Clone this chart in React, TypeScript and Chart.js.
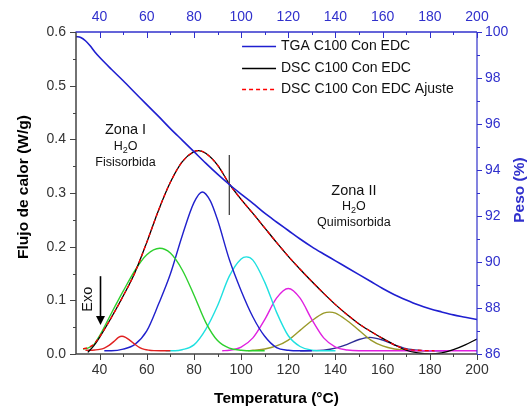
import React, { useEffect, useRef } from "react";
import { Chart, registerables } from "chart.js";

Chart.register(...registerables);

const FONT = "'Liberation Sans', Arial, Helvetica, sans-serif";
const BLUE_TXT = "#3030cc";
const AXIS_GRAY = "#444444";

// ---- tick values ----
const xTicks = [40, 60, 80, 100, 120, 140, 160, 180, 200];
const xMinor = [50, 70, 90, 110, 130, 150, 170, 190];
const yTicks = [0, 0.1, 0.2, 0.3, 0.4, 0.5, 0.6];
const yMinor = [0.05, 0.15, 0.25, 0.35, 0.45, 0.55];
const y2Ticks = [86, 88, 90, 92, 94, 96, 98, 100];
const y2Minor = [87, 89, 91, 93, 95, 97, 99];

// ---- TGA (weight %) ----
const tgaT = [30, 32, 34, 36, 38, 40, 45, 50, 55, 60, 65, 70, 75, 80, 85, 90, 95, 100, 105, 110, 115, 120, 125, 130, 135, 140, 145, 150, 155, 160, 165, 170, 175, 180, 185, 190, 195, 200];
const tgaW = [99.8, 99.76, 99.62, 99.4, 99.13, 98.9, 98.38, 97.88, 97.36, 96.84, 96.33, 95.8, 95.3, 94.8, 94.3, 93.82, 93.37, 92.95, 92.55, 92.12, 91.74, 91.37, 91.0, 90.66, 90.35, 90.05, 89.75, 89.45, 89.15, 88.85, 88.58, 88.35, 88.14, 87.97, 87.83, 87.7, 87.6, 87.5];

// ---- DSC measured ----
const dscT = [35, 37.5, 40, 45, 50, 55, 60, 65, 70, 75, 80, 82, 85, 90, 95, 100, 105, 110, 115, 120, 125, 130, 135, 140, 145, 150, 155, 160, 165, 170, 175, 180, 185, 190, 195, 200];
const dscV = [0.003, 0.015, 0.031, 0.068, 0.108, 0.152, 0.208, 0.268, 0.320, 0.358, 0.377, 0.379, 0.374, 0.352, 0.317, 0.288, 0.262, 0.235, 0.208, 0.182, 0.158, 0.135, 0.113, 0.092, 0.073, 0.056, 0.042, 0.029, 0.017, 0.007, 0.002, 0.0, 0.002, 0.008, 0.017, 0.028];

// ---- DSC fit ----
const fitT = [33, 35, 37.5, 40, 45, 50, 55, 60, 65, 70, 75, 80, 82, 85, 90, 95, 100, 105, 110, 115, 120, 125, 130, 135, 140, 145, 150, 155, 160, 165, 170, 175, 182];
const fitV = [0.010, 0.012, 0.018, 0.032, 0.068, 0.108, 0.152, 0.208, 0.268, 0.320, 0.358, 0.377, 0.379, 0.374, 0.352, 0.317, 0.288, 0.262, 0.235, 0.208, 0.182, 0.158, 0.135, 0.113, 0.092, 0.073, 0.056, 0.042, 0.029, 0.017, 0.009, 0.007, 0.006];

// ---- fitted peaks ----
const pk1T = [34, 36, 38, 40, 42, 44, 46, 48, 49.5, 51, 53, 55, 57, 59, 61, 63, 66, 70];
const pk1V = [0.007, 0.007, 0.0075, 0.0085, 0.011, 0.016, 0.023, 0.031, 0.033, 0.031, 0.025, 0.018, 0.012, 0.0085, 0.007, 0.0063, 0.006, 0.006];

const pk2T = [33, 35, 37.5, 40, 45, 50, 55, 60, 65.5, 70, 75, 80, 85, 90, 95, 100, 105, 110];
const pk2V = [0.009, 0.011, 0.017, 0.034, 0.076, 0.117, 0.156, 0.185, 0.197, 0.188, 0.157, 0.110, 0.059, 0.025, 0.011, 0.007, 0.006, 0.006];

const pk3T = [42, 45, 50, 55, 60, 65, 70, 75, 80, 83.5, 87, 90, 95, 100, 105, 110, 115, 120, 125, 130];
const pk3V = [0.006, 0.006, 0.009, 0.018, 0.043, 0.093, 0.149, 0.220, 0.282, 0.302, 0.285, 0.250, 0.176, 0.118, 0.069, 0.033, 0.012, 0.007, 0.006, 0.006];

const pk4T = [68, 72, 75, 80, 85, 90, 95, 100, 102.2, 105, 110, 115, 120, 125, 130, 135, 140];
const pk4V = [0.006, 0.006, 0.008, 0.017, 0.046, 0.090, 0.145, 0.177, 0.181, 0.175, 0.134, 0.078, 0.034, 0.014, 0.007, 0.006, 0.006];

const pk5T = [92, 95, 100, 105, 110, 115, 120, 125, 130, 135, 140, 145, 150, 160, 175, 200];
const pk5V = [0.006, 0.007, 0.013, 0.030, 0.064, 0.104, 0.122, 0.104, 0.064, 0.030, 0.013, 0.0075, 0.006, 0.006, 0.006, 0.006];

const pk6T = [103, 105, 110, 115, 120, 125, 130, 135, 137.5, 140, 145, 150, 155, 160, 165, 170, 175, 180];
const pk6V = [0.006, 0.007, 0.0093, 0.015, 0.026, 0.044, 0.062, 0.076, 0.078, 0.076, 0.062, 0.044, 0.026, 0.015, 0.0093, 0.007, 0.006, 0.006];

const pk7T = [125, 130, 135, 140, 145, 150, 154.5, 160, 165, 170, 175, 180, 188];
const pk7V = [0.006, 0.0062, 0.0073, 0.011, 0.018, 0.027, 0.031, 0.026, 0.017, 0.010, 0.007, 0.006, 0.006];

// ---- zone separator ----
const sepT = [95, 95];
const sepV = [0.259, 0.371];

// ---- legend / annotation text ----
const legendItems = ["TGA C100 Con EDC", "DSC C100 Con EDC", "DSC C100 Con EDC Ajuste"];
const legendRowsV = [0.573, 0.532, 0.494];

const xy = (t: number[], v: number[]) => t.map((x, i) => ({ x, y: v[i] }));

const COLORS = {
  tga: "#1f1fd0",
  dsc: "#000000",
  fit: "#ff0000",
  p1: "#e02020",
  p2: "#2ed02e",
  p3: "#2020cc",
  p4: "#1fe0e0",
  p5: "#e020e0",
  p6: "#9a9a2a",
  p7: "#2e2e96",
};

function drawH2O(ctx: CanvasRenderingContext2D, cx: number, cy: number, size: number) {
  ctx.save();
  ctx.textBaseline = "middle";
  ctx.textAlign = "left";
  const big = `${size}px ${FONT}`;
  const small = `${Math.round(size * 0.7)}px ${FONT}`;
  ctx.font = big;
  const wH = ctx.measureText("H").width;
  const wO = ctx.measureText("O").width;
  ctx.font = small;
  const w2 = ctx.measureText("2").width;
  const total = wH + w2 + wO;
  let x = cx - total / 2;
  ctx.font = big;
  ctx.fillText("H", x, cy);
  x += wH;
  ctx.font = small;
  ctx.fillText("2", x, cy + size * 0.3);
  x += w2;
  ctx.font = big;
  ctx.fillText("O", x, cy);
  ctx.restore();
}

const decorPlugin = {
  id: "decor",
  afterDatasetsDraw(chart: any) {
    const ctx: CanvasRenderingContext2D = chart.ctx;
    const { left, right, top, bottom } = chart.chartArea;
    const sx = chart.scales.x;
    const sy = chart.scales.y;
    const sy2 = chart.scales.y2;
    ctx.save();

    // axis lines
    ctx.lineWidth = 1.5;
    ctx.strokeStyle = AXIS_GRAY;
    ctx.beginPath();
    ctx.moveTo(left, top);
    ctx.lineTo(left, bottom);
    ctx.moveTo(left, bottom);
    ctx.lineTo(right, bottom);
    ctx.stroke();
    ctx.strokeStyle = BLUE_TXT;
    ctx.beginPath();
    ctx.moveTo(left - 0.5, top);
    ctx.lineTo(right, top);
    ctx.stroke();
    ctx.lineWidth = 1.2;
    ctx.beginPath();
    ctx.moveTo(right, top);
    ctx.lineTo(right, bottom);
    ctx.stroke();

    // ticks
    ctx.lineWidth = 1;
    ctx.strokeStyle = AXIS_GRAY;
    ctx.beginPath();
    xTicks.forEach((v) => {
      const p = Math.round(sx.getPixelForValue(v)) + 0.5;
      ctx.moveTo(p, bottom);
      ctx.lineTo(p, bottom + 6);
    });
    xMinor.forEach((v) => {
      const p = Math.round(sx.getPixelForValue(v)) + 0.5;
      ctx.moveTo(p, bottom);
      ctx.lineTo(p, bottom + 3);
    });
    yTicks.forEach((v) => {
      const p = Math.round(sy.getPixelForValue(v)) + 0.5;
      ctx.moveTo(left, p);
      ctx.lineTo(left - 6, p);
    });
    yMinor.forEach((v) => {
      const p = Math.round(sy.getPixelForValue(v)) + 0.5;
      ctx.moveTo(left, p);
      ctx.lineTo(left - 3, p);
    });
    ctx.stroke();
    ctx.strokeStyle = BLUE_TXT;
    ctx.beginPath();
    xTicks.forEach((v) => {
      const p = Math.round(sx.getPixelForValue(v)) + 0.5;
      ctx.moveTo(p, top);
      ctx.lineTo(p, top + 6);
    });
    xMinor.forEach((v) => {
      const p = Math.round(sx.getPixelForValue(v)) + 0.5;
      ctx.moveTo(p, top);
      ctx.lineTo(p, top + 3);
    });
    y2Ticks.forEach((v) => {
      const p = Math.round(sy2.getPixelForValue(v)) + 0.5;
      ctx.moveTo(right, p);
      ctx.lineTo(right + 5, p);
    });
    y2Minor.forEach((v) => {
      const p = Math.round(sy2.getPixelForValue(v)) + 0.5;
      ctx.moveTo(right, p);
      ctx.lineTo(right + 3, p);
    });
    ctx.stroke();

    // axis titles
    ctx.fillStyle = "#000";
    ctx.font = `bold 15.5px ${FONT}`;
    ctx.textAlign = "center";
    ctx.textBaseline = "alphabetic";
    ctx.fillText("Temperatura (°C)", (left + right) / 2, 402.5);
    ctx.save();
    ctx.translate(28, 187);
    ctx.rotate(-Math.PI / 2);
    ctx.fillText("Flujo de calor (W/g)", 0, 0);
    ctx.restore();
    ctx.save();
    ctx.fillStyle = BLUE_TXT;
    ctx.translate(524, (top + bottom) / 2 - 3);
    ctx.rotate(-Math.PI / 2);
    ctx.fillText("Peso (%)", 0, 0);
    ctx.restore();

    // legend
    const lx0 = sx.getPixelForValue(100.4);
    const lx1 = sx.getPixelForValue(114.8);
    const ltx = sx.getPixelForValue(116.9);
    const legendStyles = [
      { c: COLORS.tga, dash: [] as number[], w: 1.5 },
      { c: COLORS.dsc, dash: [] as number[], w: 1.3 },
      { c: COLORS.fit, dash: [4, 3], w: 1.5 },
    ];
    ctx.font = `14px ${FONT}`;
    ctx.textAlign = "left";
    ctx.textBaseline = "middle";
    legendItems.forEach((label, i) => {
      const yy = Math.round(sy.getPixelForValue(legendRowsV[i])) + 0.5;
      ctx.save();
      ctx.strokeStyle = legendStyles[i].c;
      ctx.lineWidth = legendStyles[i].w;
      ctx.setLineDash(legendStyles[i].dash);
      ctx.beginPath();
      ctx.moveTo(lx0, yy);
      ctx.lineTo(lx1, yy);
      ctx.stroke();
      ctx.restore();
      ctx.fillStyle = "#111";
      ctx.fillText(label, ltx, yy);
    });

    // zone annotations
    ctx.fillStyle = "#111";
    ctx.textAlign = "center";
    ctx.textBaseline = "middle";
    ctx.font = `14.5px ${FONT}`;
    ctx.fillText("Zona I", sx.getPixelForValue(51), sy.getPixelForValue(0.417));
    drawH2O(ctx, sx.getPixelForValue(51), sy.getPixelForValue(0.386), 12.5);
    ctx.font = `12.5px ${FONT}`;
    ctx.textAlign = "center";
    ctx.fillText("Fisisorbida", sx.getPixelForValue(51), sy.getPixelForValue(0.356));
    ctx.font = `14.5px ${FONT}`;
    ctx.fillText("Zona II", sx.getPixelForValue(147.8), sy.getPixelForValue(0.304));
    drawH2O(ctx, sx.getPixelForValue(147.8), sy.getPixelForValue(0.274), 12.5);
    ctx.font = `12.5px ${FONT}`;
    ctx.textAlign = "center";
    ctx.fillText("Quimisorbida", sx.getPixelForValue(147.8), sy.getPixelForValue(0.245));

    // Exo label + arrow
    ctx.save();
    ctx.font = `14.5px ${FONT}`;
    ctx.translate(sx.getPixelForValue(35.1), sy.getPixelForValue(0.102));
    ctx.rotate(-Math.PI / 2);
    ctx.fillText("Exo", 0, 0);
    ctx.restore();
    const ax = Math.round(sx.getPixelForValue(40)) + 0.5;
    const ay0 = sy.getPixelForValue(0.145);
    const ay1 = sy.getPixelForValue(0.054);
    ctx.strokeStyle = "#000";
    ctx.fillStyle = "#000";
    ctx.lineWidth = 1.6;
    ctx.beginPath();
    ctx.moveTo(ax, ay0);
    ctx.lineTo(ax, ay1 - 6);
    ctx.stroke();
    ctx.beginPath();
    ctx.moveTo(ax - 4.5, ay1 - 9);
    ctx.lineTo(ax + 4.5, ay1 - 9);
    ctx.lineTo(ax, ay1);
    ctx.closePath();
    ctx.fill();

    ctx.restore();
  },
};

export default function App() {
  const ref = useRef<HTMLCanvasElement | null>(null);

  useEffect(() => {
    if (!ref.current) return;
    const line = (data: any[], color: string, width: number, extra: any = {}) => ({
      data,
      borderColor: color,
      backgroundColor: color,
      borderWidth: width,
      pointRadius: 0,
      fill: false,
      cubicInterpolationMode: "monotone",
      yAxisID: "y",
      xAxisID: "x",
      ...extra,
    });
    const tickFont = { family: FONT, size: 14 };
    const chart = new Chart(ref.current, {
      type: "line",
      data: {
        datasets: [
          line(xy(tgaT, tgaW), COLORS.tga, 1.6, { yAxisID: "y2", label: legendItems[0] }),
          line(xy(sepT, sepV), "#444444", 1.3, { label: "sep", cubicInterpolationMode: "default" }),
          line(xy(fitT, fitV), COLORS.fit, 1.3, { borderDash: [4, 3], label: legendItems[2] }),
          line(xy(dscT, dscV), COLORS.dsc, 1.3, { label: legendItems[1] }),
          line(xy(pk1T, pk1V), COLORS.p1, 1.4, { label: "p1" }),
          line(xy(pk2T, pk2V), COLORS.p2, 1.4, { label: "p2" }),
          line(xy(pk3T, pk3V), COLORS.p3, 1.4, { label: "p3" }),
          line(xy(pk4T, pk4V), COLORS.p4, 1.4, { label: "p4" }),
          line(xy(pk5T, pk5V), COLORS.p5, 1.4, { label: "p5" }),
          line(xy(pk6T, pk6V), COLORS.p6, 1.4, { label: "p6" }),
          line(xy(pk7T, pk7V), COLORS.p7, 1.4, { label: "p7" }),
        ],
      },
      options: {
        responsive: false,
        animation: false,
        events: [],
        layout: { padding: 0 },
        plugins: {
          legend: { display: false },
          tooltip: { enabled: false },
          title: { display: false },
        },
        scales: {
          x: {
            type: "linear",
            position: "bottom",
            min: 30,
            max: 200,
            afterBuildTicks: (s: any) => {
              s.ticks = xTicks.map((v) => ({ value: v }));
            },
            afterFit: (s: any) => {
              s.height = 57;
            },
            grid: { display: false, drawTicks: false },
            border: { display: false },
            ticks: {
              color: "#333",
              font: tickFont,
              padding: 8,
              maxRotation: 0,
              autoSkip: false,
              callback: (v: any) => String(v),
            },
          },
          x2: {
            type: "linear",
            position: "top",
            min: 30,
            max: 200,
            afterBuildTicks: (s: any) => {
              s.ticks = xTicks.map((v) => ({ value: v }));
            },
            afterFit: (s: any) => {
              s.height = 32;
            },
            grid: { display: false, drawTicks: false },
            border: { display: false },
            ticks: {
              color: BLUE_TXT,
              font: tickFont,
              padding: 6,
              maxRotation: 0,
              autoSkip: false,
              callback: (v: any) => String(v),
            },
          },
          y: {
            type: "linear",
            position: "left",
            min: 0,
            max: 0.6,
            afterBuildTicks: (s: any) => {
              s.ticks = yTicks.map((v) => ({ value: v }));
            },
            afterFit: (s: any) => {
              s.width = 76;
            },
            grid: { display: false, drawTicks: false },
            border: { display: false },
            ticks: {
              color: "#333",
              font: tickFont,
              padding: 10,
              autoSkip: false,
              callback: (v: any) => Number(v).toFixed(1),
            },
          },
          y2: {
            type: "linear",
            position: "right",
            min: 86,
            max: 100,
            afterBuildTicks: (s: any) => {
              s.ticks = y2Ticks.map((v) => ({ value: v }));
            },
            afterFit: (s: any) => {
              s.width = 55;
            },
            grid: { display: false, drawTicks: false },
            border: { display: false },
            ticks: {
              color: BLUE_TXT,
              font: tickFont,
              padding: 8,
              autoSkip: false,
              callback: (v: any) => String(v),
            },
          },
        },
      },
      plugins: [decorPlugin],
    } as any);
    return () => chart.destroy();
  }, []);

  return (
    <div style={{ position: "fixed", left: 0, top: 0, width: 532, height: 411, background: "#fff", overflow: "hidden" }}>
      <canvas ref={ref} width={532} height={411} style={{ display: "block", width: 532, height: 411 }} />
    </div>
  );
}
